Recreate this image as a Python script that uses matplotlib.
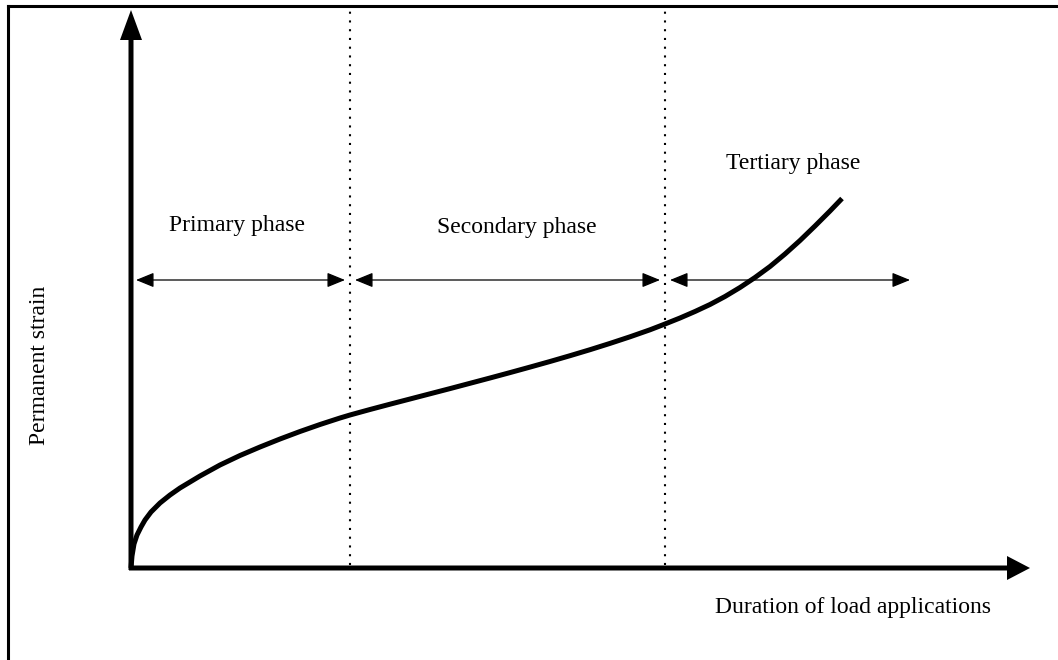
import numpy as np
import matplotlib.pyplot as plt
from matplotlib.lines import Line2D

plt.rcParams['font.family'] = ['Liberation Serif', 'DejaVu Serif']

# permanent strain curve (duration, strain)
duration = [0, 1, 3, 6, 10, 14, 20, 29, 39, 49, 59, 69, 89, 109, 129, 149, 169,
            189, 209, 219, 239, 259, 279, 299, 319, 339, 359, 379, 399, 419, 439,
            459, 479, 499, 519, 534, 549, 564, 579, 594, 609, 624, 639, 654, 669,
            684, 699, 711]
strain = [0, 12, 24, 33, 41, 48, 56, 65, 73, 80, 86, 92, 103, 112.5, 121, 129,
          136.5, 143.5, 150, 153, 158.5, 163.8, 169, 174.2, 179.4, 184.7, 190,
          195.4, 200.9, 206.5, 212.3, 218.3, 224.6, 231.2, 238.2, 244, 250,
          256.5, 263.5, 271.5, 280.5, 290.5, 301.5, 314, 327.5, 342, 357, 369.5]

# phase boundaries and labels
bounds = [0, 219, 534, 779]
phase_names = ['Primary phase', 'Secondary phase', 'Tertiary phase']
label_pos = [(106, 343), (386, 340), (662, 405)]
arrow_level = 288

fig = plt.figure(figsize=(10.58, 6.60), dpi=100)
ax = fig.add_axes([0, 0, 1, 1])
ax.set_xlim(-131, 927)
ax.set_ylim(-92, 568)
ax.axis('off')

# frame lines on top and left
fig.add_artist(Line2D([8 / 1058, 1], [1 - 6 / 660, 1 - 6 / 660], color='black', lw=2.2,
                      transform=fig.transFigure))
fig.add_artist(Line2D([8 / 1058, 8 / 1058], [0, 1 - 6 / 660], color='black', lw=2.2,
                      transform=fig.transFigure))

# axes with arrowheads
ax.arrow(0, -2, 0, 560, width=5, head_width=22, head_length=30,
         length_includes_head=True, color='black', lw=0)
ax.arrow(-2, 0, 901, 0, width=5, head_width=24, head_length=23,
         length_includes_head=True, color='black', lw=0)

# dotted phase boundaries
for b in bounds[1:3]:
    ax.plot([b, b], [3, 558], color='black', lw=1.5, ls=(0, (1, 3.2)))

# double arrows for each phase
gaps = [(5, -5), (5, -5), (5, 0)]
for i in range(3):
    ax.annotate('', xy=(bounds[i + 1] + gaps[i][1], arrow_level),
                xytext=(bounds[i] + gaps[i][0], arrow_level),
                arrowprops=dict(arrowstyle='<|-|>,head_length=1.1,head_width=0.45',
                                color='black', lw=0.9, shrinkA=0, shrinkB=0))
    ax.text(label_pos[i][0], label_pos[i][1], phase_names[i], ha='center', va='center',
            fontsize=17)

ax.plot(duration, strain, color='black', lw=3.6, solid_capstyle='butt')

ax.text(-91, 203, 'Permanent strain', rotation=90, ha='center', va='center', fontsize=17)
ax.text(722, -39, 'Duration of load applications', ha='center', va='center', fontsize=17)

fig.savefig('out.png', dpi=100)
